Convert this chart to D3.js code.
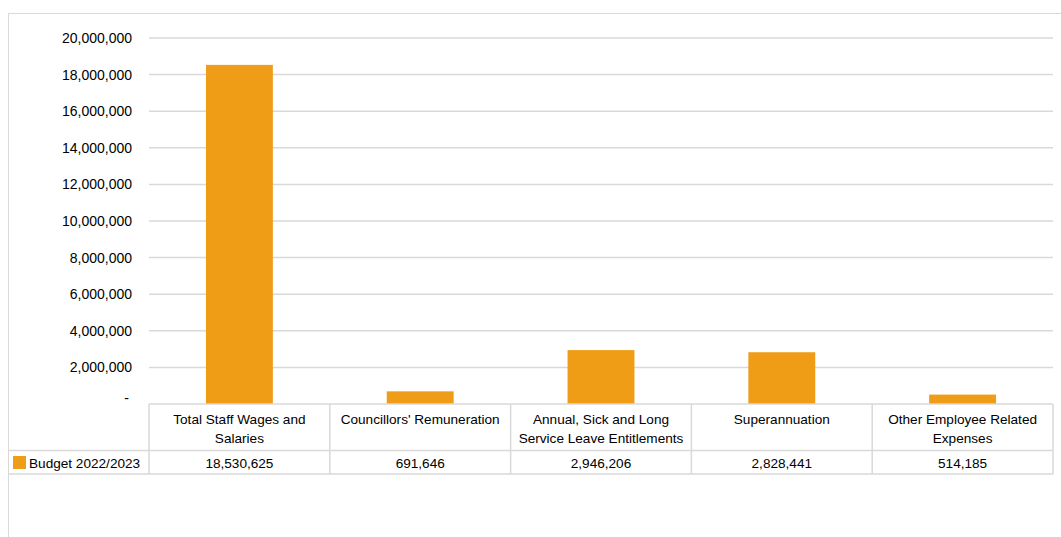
<!DOCTYPE html>
<html>
<head>
<meta charset="utf-8">
<script src="https://cdn.jsdelivr.net/npm/d3@7"></script>
<style>
  html, body { margin: 0; padding: 0; background: #fff; }
  svg { display: block; font-family: "Liberation Sans", Arial, sans-serif; }
</style>
</head>
<body>
<svg id="chart" width="1061" height="537"></svg>
<script>
// Employee costs budget, 2022/2023
const categories = [
  ["Total Staff Wages and", "Salaries"],
  ["Councillors' Remuneration"],
  ["Annual, Sick and Long", "Service Leave Entitlements"],
  ["Superannuation"],
  ["Other Employee Related", "Expenses"]
];
const seriesName = "Budget 2022/2023";
const values = [18530625, 691646, 2946206, 2828441, 514185];
const yTicks = [0, 2000000, 4000000, 6000000, 8000000, 10000000, 12000000, 14000000, 16000000, 18000000, 20000000];

const barColor = "#EF9C17";
const gridColor = "#d9d9d9";
const textColor = "#000";
const fontSize = 13.6;

const svg = d3.select("#chart");

// outer chart frame
svg.append("rect")
  .attr("x", 8.5).attr("y", 13.5)
  .attr("width", 1100).attr("height", 600)
  .attr("fill", "none").attr("stroke", gridColor).attr("stroke-width", 1);

const plot = { left: 149, right: 1053, top: 38, bottom: 404 };

const x = d3.scaleBand()
  .domain(d3.range(values.length))
  .range([plot.left, plot.right])
  .paddingInner(0.63).paddingOuter(0.315);

const y = d3.scaleLinear()
  .domain([0, 20000000])
  .range([plot.bottom, plot.top]);

// horizontal gridlines
svg.append("g")
  .selectAll("line")
  .data(yTicks.filter(d => d > 0))
  .join("line")
  .attr("x1", plot.left).attr("x2", plot.right)
  .attr("y1", d => y(d)).attr("y2", d => y(d))
  .attr("stroke", gridColor).attr("stroke-width", 1.5);

// y axis labels
const fmt = d3.format(",");
const yAxis = d3.axisLeft(y)
  .tickValues(yTicks)
  .tickSize(0)
  .tickPadding(17)
  .tickFormat(d => d === 0 ? "-" : fmt(d));
const yg = svg.append("g")
  .attr("transform", `translate(${plot.left},0)`)
  .call(yAxis);
yg.select(".domain").remove();
yg.selectAll("text")
  .attr("font-size", 14).attr("fill", textColor)
  .attr("font-family", "Liberation Sans, Arial, sans-serif");
yg.selectAll(".tick").filter(d => d === 0).select("text").attr("dx", -3).attr("dy", "-0.1em");

// bars
svg.append("g")
  .selectAll("rect")
  .data(values)
  .join("rect")
  .attr("x", (d, i) => x(i))
  .attr("width", x.bandwidth())
  .attr("y", d => y(d))
  .attr("height", d => y(0) - y(d))
  .attr("fill", barColor);

// data table under the plot
const step = x.step();
const colLeft = i => plot.left + i * step;
const tableTop = plot.bottom, rowDiv = 450.5, tableBottom = 474;
const legendLeft = 8;

const tbl = svg.append("g").attr("stroke", gridColor).attr("stroke-width", 1.5);
// horizontal lines
tbl.append("line").attr("x1", plot.left).attr("x2", plot.right).attr("y1", tableTop).attr("y2", tableTop);
tbl.append("line").attr("x1", legendLeft).attr("x2", plot.right).attr("y1", rowDiv).attr("y2", rowDiv);
tbl.append("line").attr("x1", legendLeft).attr("x2", plot.right).attr("y1", tableBottom).attr("y2", tableBottom);
// vertical lines
tbl.selectAll("line.v")
  .data(d3.range(values.length + 1))
  .join("line").attr("class", "v")
  .attr("x1", i => colLeft(i)).attr("x2", i => colLeft(i))
  .attr("y1", tableTop).attr("y2", tableBottom);

// category header text
const header = svg.append("g")
  .attr("font-size", fontSize).attr("fill", textColor).attr("text-anchor", "middle");
categories.forEach((lines, i) => {
  const cx = colLeft(i) + step / 2;
  lines.forEach((ln, j) => {
    header.append("text")
      .attr("x", cx).attr("y", tableTop + 19.5 + j * 19.5)
      .text(ln);
  });
});

// value row
svg.append("g")
  .attr("font-size", fontSize).attr("fill", textColor).attr("text-anchor", "middle")
  .selectAll("text")
  .data(values)
  .join("text")
  .attr("x", (d, i) => colLeft(i) + step / 2)
  .attr("y", rowDiv + 17.5)
  .text(d => fmt(d));

// legend key in the table
svg.append("rect")
  .attr("x", 13).attr("y", 456).attr("width", 13).attr("height", 13)
  .attr("fill", barColor);
svg.append("text")
  .attr("x", 29).attr("y", rowDiv + 17.5)
  .attr("font-size", fontSize).attr("fill", textColor)
  .text(seriesName);
</script>
</body>
</html>
